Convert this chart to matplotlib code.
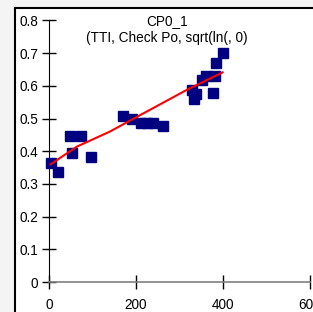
"""Recria o gráfico CP0_1: dispersão com linha de tendência (estilo Excel)."""

import matplotlib

matplotlib.use("Agg")
import matplotlib.pyplot as plt
from matplotlib.lines import Line2D
from matplotlib.patches import Rectangle

# ── Dados ─────────────────────────────────────────────────────────────────
pontos_x = [4, 21, 48, 73, 54, 96, 169, 191, 212, 226, 240, 263,
            328, 333, 338, 351, 362, 382, 376, 385, 399]
pontos_y = [0.365, 0.337, 0.446, 0.446, 0.393, 0.383, 0.508, 0.500, 0.487,
            0.487, 0.487, 0.477, 0.587, 0.559, 0.574, 0.618, 0.630, 0.630,
            0.579, 0.669, 0.699]

tendencia_x = [4, 64, 140, 209, 248, 316, 399]
tendencia_y = [0.360, 0.414, 0.460, 0.510, 0.538, 0.587, 0.641]

x_ticks = [0, 200, 400, 600]
y_ticks = [0, 0.1, 0.2, 0.3, 0.4, 0.5, 0.6, 0.7, 0.8]
titulo = "CP0_1\n(TTI, Check Po, sqrt(ln(, 0)"

W, H = 313, 312
plt.rcParams["font.family"] = ["Liberation Sans", "DejaVu Sans"]

fig = plt.figure(figsize=(W / 100, H / 100), dpi=100)
fig.patch.set_facecolor("#f4f4f4")

# área do gráfico (branca, com borda preta à esquerda e em cima)
x0, y0 = 14.5 / W, 1 - 7.5 / H
fig.patches.append(Rectangle((x0, 0), 1 - x0, y0, transform=fig.transFigure,
                             facecolor="white", edgecolor="none", zorder=-5))
fig.lines.append(Line2D([x0, x0], [0, y0], transform=fig.transFigure,
                        color="black", linewidth=1.5, zorder=-4))
fig.lines.append(Line2D([x0, 1], [y0, y0], transform=fig.transFigure,
                        color="black", linewidth=1.5, zorder=-4))

ax = fig.add_axes([49 / W, 30 / H, 261 / W, 261.6 / H])
ax.set_facecolor("none")

ax.plot(pontos_x, pontos_y, linestyle="none", marker="s", markersize=7.2,
        color="#000080", zorder=3, clip_on=False)
ax.plot(tendencia_x, tendencia_y, color="#ff0000", linewidth=1.5, zorder=4)

ax.set_xlim(0, 600)
ax.set_ylim(0, 0.8)
ax.set_xticks(x_ticks)
ax.set_xticklabels([str(v) for v in x_ticks])
ax.set_yticks(y_ticks)
ax.set_yticklabels(["0"] + [f"{v:.1f}" for v in y_ticks[1:]])

for lado in ("top", "right"):
    ax.spines[lado].set_visible(False)
ax.spines["left"].set_color("black")
ax.spines["bottom"].set_color("#808080")
ax.spines["bottom"].set_linewidth(1.2)

ax.tick_params(axis="both", direction="inout", length=10, width=1,
               color="black", labelsize=9.8, labelcolor="black")
ax.tick_params(axis="x", pad=6.5)
ax.tick_params(axis="y", pad=3)

fig.text(167 / W, 1 - 29.5 / H, titulo, ha="center", va="center",
         fontsize=9.8, linespacing=1.3)

fig.savefig("out.png", dpi=100, facecolor=fig.get_facecolor())
